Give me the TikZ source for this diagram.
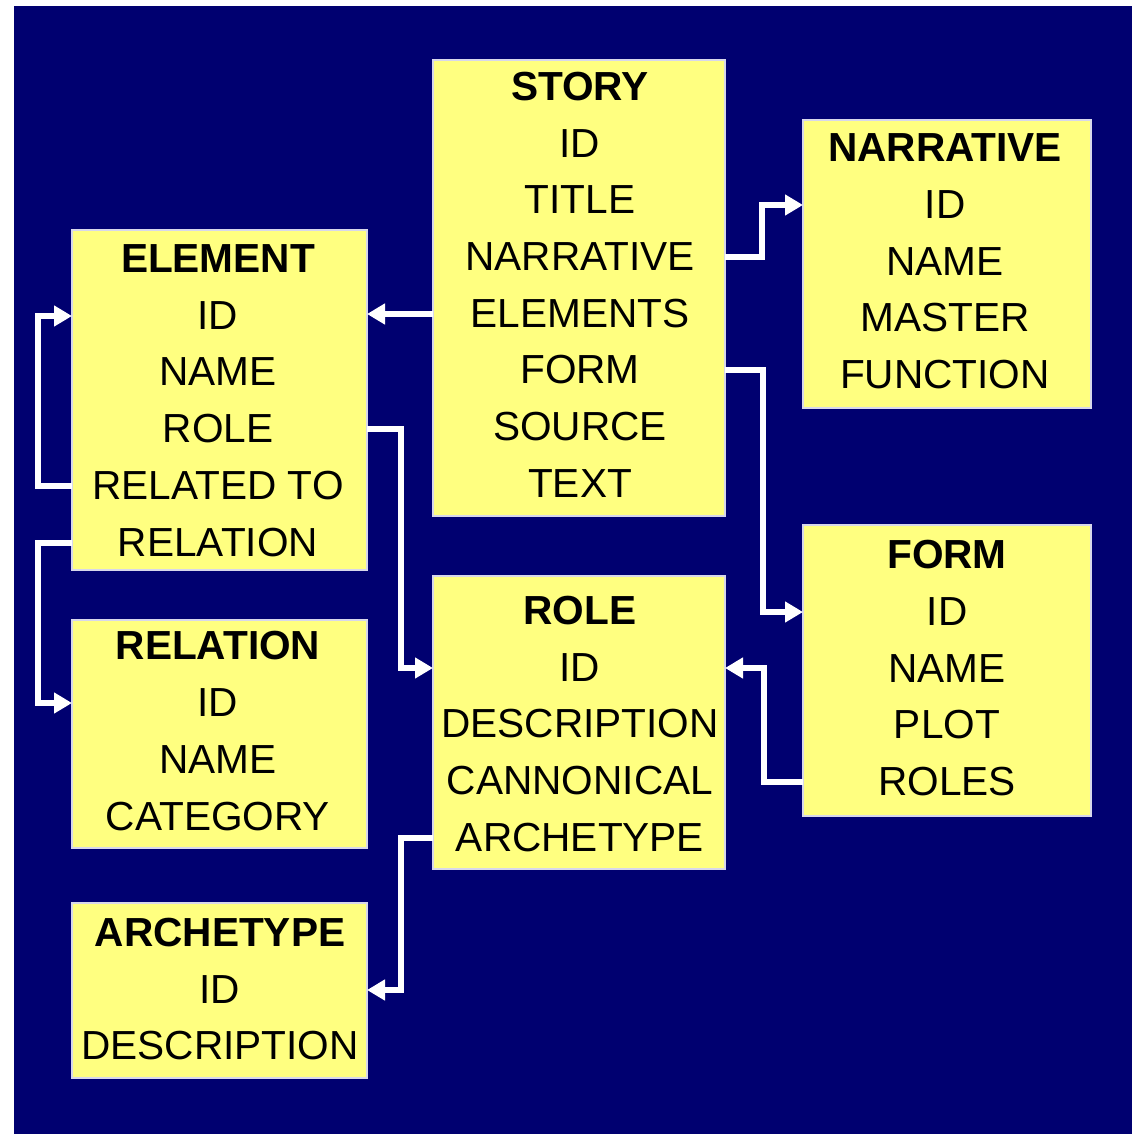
\documentclass[tikz,border=0pt]{standalone}
\usepackage{fontspec}
\setmainfont{Liberation Sans}
\usetikzlibrary{arrows.meta}
\definecolor{navy}{RGB}{0,0,112}
\definecolor{boxyellow}{RGB}{255,255,128}
\definecolor{boxedge}{RGB}{215,215,235}
\begin{document}
\begin{tikzpicture}[x=0.5pt,y=-0.5pt,
  box/.style={draw=boxedge, line width=0.6pt, fill=boxyellow, inner sep=0pt, outer sep=0pt},
  txt/.style={inner sep=0pt, font=\fontsize{20.3}{24}\selectfont, text=black},
  ttl/.style={inner sep=0pt, font=\fontsize{20.3}{24}\selectfont\bfseries, text=black},
  conn/.style={draw=white, line width=3pt, -{Triangle[length=9pt,width=10pt]}}]

\useasboundingbox (0,0) rectangle (1132,1134);
\fill[navy] (14,6) rectangle (1132,1134);

% boxes
\node[box, minimum width=146pt, minimum height=228pt] (story) at (579,288) {};
\node[box, minimum width=144pt, minimum height=144pt] (narrative) at (947,264) {};
\node[box, minimum width=147.5pt, minimum height=170pt] (element) at (219.5,400) {};
\node[box, minimum width=147.5pt, minimum height=114pt] (relation) at (219.5,734) {};
\node[box, minimum width=146pt, minimum height=146.5pt] (role) at (579,722.5) {};
\node[box, minimum width=144pt, minimum height=145.5pt] (form) at (947,670.5) {};
\node[box, minimum width=147.5pt, minimum height=87.5pt] (archetype) at (219.5,990.5) {};

% STORY
\node[ttl] (s-t) at (580,87) {STORY};
\node[txt] (s-id) at (580,144) {ID};
\node[txt] (s-title) at (580,200) {TITLE};
\node[txt] (s-narr) at (580,257) {NARRATIVE};
\node[txt] (s-elem) at (580,314) {ELEMENTS};
\node[txt] (s-form) at (580,370) {FORM};
\node[txt] (s-source) at (580,427) {SOURCE};
\node[txt] (s-text) at (580,484) {TEXT};

% NARRATIVE
\node[ttl] (n-t) at (945,148) {NARRATIVE};
\node[txt] (n-id) at (945,205) {ID};
\node[txt] (n-name) at (945,262) {NAME};
\node[txt] (n-master) at (945,318) {MASTER};
\node[txt] (n-func) at (945,375) {FUNCTION};

% ELEMENT
\node[ttl] (e-t) at (218,259) {ELEMENT};
\node[txt] (e-id) at (218,316) {ID};
\node[txt] (e-name) at (218,372) {NAME};
\node[txt] (e-role) at (218,429) {ROLE};
\node[txt] (e-rel) at (218,486) {RELATED TO};
\node[txt] (e-relation) at (218,543) {RELATION};

% RELATION
\node[ttl] (r-t) at (218,646) {RELATION};
\node[txt] (r-id) at (218,703) {ID};
\node[txt] (r-name) at (218,760) {NAME};
\node[txt] (r-cat) at (218,817) {CATEGORY};

% ROLE
\node[ttl] (ro-t) at (580,611) {ROLE};
\node[txt] (ro-id) at (580,668) {ID};
\node[txt] (ro-desc) at (580,724) {DESCRIPTION};
\node[txt] (ro-can) at (580,781) {CANNONICAL};
\node[txt] (ro-arch) at (580,838) {ARCHETYPE};

% FORM
\node[ttl] (f-t) at (947,555) {FORM};
\node[txt] (f-id) at (947,612) {ID};
\node[txt] (f-name) at (947,669) {NAME};
\node[txt] (f-plot) at (947,725) {PLOT};
\node[txt] (f-roles) at (947,782) {ROLES};

% ARCHETYPE
\node[ttl] (a-t) at (220,933) {ARCHETYPE};
\node[txt] (a-id) at (220,990) {ID};
\node[txt] (a-desc) at (220,1046) {DESCRIPTION};

% connectors
\draw[conn] (story.west |- s-elem) -- (element.east |- s-elem);
\draw[conn] (story.east |- s-narr) -- ++(37,0) |- (narrative.west |- n-id);
\draw[conn] (story.east |- s-form) -- ++(38,0) |- (form.west |- f-id);
\draw[conn] (element.west |- e-rel) -- ++(-34,0) |- (element.west |- e-id);
\draw[conn] (element.west |- e-relation) -- ++(-34,0) |- (relation.west |- r-id);
\draw[conn] (element.east |- e-role) -- ++(34,0) |- (role.west |- ro-id);
\draw[conn] (form.west |- f-roles) -- ++(-39,0) |- (role.east |- ro-id);
\draw[conn] (role.west |- ro-arch) -- ++(-32,0) |- (archetype.east |- a-id);
\end{tikzpicture}
\end{document}
